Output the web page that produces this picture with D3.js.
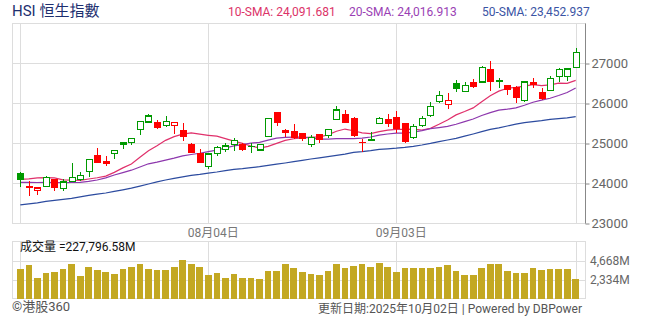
<!DOCTYPE html>
<html>
<head>
<meta charset="utf-8">
<script src="https://cdn.jsdelivr.net/npm/d3@7"></script>
<style>
  body { margin: 0; background: #fff; }
  svg { display: block; font-family: Roboto, "Noto Sans CJK TC", sans-serif; }
</style>
</head>
<body>
<svg id="chart" width="654" height="325"></svg>
<script>
"use strict";
// daily OHLC
const open  = [24250,23925,23817,23908,24092,23867,24033,24083,24283,24700,24550,24742,24983,25017,25333,25525,25517,25433,25442,25325,24983,24750,24408,24742,24842,24967,24975,24933,24825,25158,25767,25317,25292,25242,24967,25217,25192,25592,25725,25625,25033,25092,25492,25600,25650,25500,25133,25433,25683,26033,25967,26508,26283,26517,26525,26850,26575,26442,26408,26058,26525,26267,26317,26667,26667,26892];
const high  = [24275,24050,23908,24175,24108,24100,24508,24275,24600,24883,24675,24825,25033,25117,25550,25725,25567,25675,25517,25500,25000,24842,24725,24925,24992,25117,25008,24992,24967,25617,25767,25342,25475,25242,25192,25217,25342,25925,25825,25650,25092,25267,25650,25725,25800,25500,25475,25667,26017,26300,26242,26567,26525,26592,26925,27050,26633,26458,26425,26542,26625,26383,26675,26875,26867,27375];
const low   = [23908,23683,23700,23892,23808,23808,24017,24058,24142,24500,24433,24608,24842,24942,25208,25492,25342,25392,25225,25050,24742,24492,24350,24683,24783,24808,24808,24758,24800,25158,25433,25158,25092,25058,24892,24992,25133,25592,25508,25158,24783,25058,25475,25408,25258,25008,25092,25392,25658,26008,25858,26283,26283,26367,26508,26308,26383,26192,25992,26025,26375,26075,26317,26533,26542,26892];
const close = [24067,23890,23875,24142,23883,24025,24142,24192,24592,24508,24483,24817,25000,25117,25542,25675,25383,25542,25517,25158,24758,24508,24725,24892,24925,25058,24825,24892,24967,25617,25508,25258,25117,25100,25142,25075,25342,25825,25508,25183,24992,25058,25617,25483,25350,25033,25408,25617,25917,26192,26067,26350,26442,26408,26892,26533,26542,26333,26133,26525,26450,26100,26608,26842,26850,27267];
const prevClose0 = 24000; // close of the day before the first candle

// moving averages
const sma10 = [24092,24105,24130,24135,24130,24080,24070,24065,24100,24132,24173,24266,24378,24476,24642,24807,24931,25066,25158,25223,25251,25220,25193,25170,25108,25047,24991,24926,24871,24917,24992,25067,25106,25127,25148,25150,25202,25295,25349,25306,25254,25234,25284,25323,25343,25339,25346,25325,25366,25467,25574,25703,25786,25878,26033,26183,26296,26368,26389,26423,26461,26436,26452,26496,26492,26565];
const sma20 = [24017,24015,24012,24015,24012,24010,24012,24015,24040,24075,24130,24200,24260,24320,24400,24480,24520,24570,24620,24678,24712,24743,24785,24823,24875,24927,24961,24996,25015,25070,25121,25143,25149,25148,25128,25098,25096,25110,25110,25111,25123,25150,25195,25225,25246,25245,25274,25310,25358,25386,25414,25469,25535,25600,25688,25761,25821,25846,25878,25945,26018,26070,26119,26187,26262,26374];
const sma50 = [23453,23480,23505,23540,23565,23590,23615,23655,23690,23720,23750,23790,23830,23870,23920,23975,24030,24075,24115,24155,24190,24215,24245,24275,24310,24340,24360,24385,24408,24440,24470,24500,24533,24565,24600,24630,24658,24690,24720,24767,24785,24810,24842,24855,24870,24890,24915,24950,24990,25035,25075,25117,25170,25225,25285,25342,25380,25425,25470,25508,25535,25560,25590,25610,25630,25658];

// volume in millions
const volume = [3613,4100,2517,3125,3247,3613,4221,2760,3856,3491,3247,3004,3613,3856,4221,3613,3491,3491,3856,4708,4221,3856,2882,3125,2517,3004,2517,2517,2395,3369,3369,4221,3734,3247,3004,2882,3369,4221,3734,3978,4221,3856,4343,3856,3247,3734,3734,3734,3734,3856,4100,3369,2882,2882,3734,4221,4221,3369,3125,3125,3734,3491,3613,3613,3613,2395];

const priceTicks = [23000, 24000, 25000, 26000, 27000];
const volTicks = [2334, 4668];
const gridDays = [0, 22, 44, 65];
const dateTickDays = [22, 44];
const dateTickLabels = ['08月04日', '09月03日'];
const smaLabels = ['10-SMA: 24,091.681', '20-SMA: 24,016.913', '50-SMA: 23,452.937'];

const green = '#009900', red = '#ff0000';
const smaColors = ['#e0306b', '#8d37ad', '#2c4b9f'];
const smaTextColors = ['#dc3368', '#9a3fb4', '#3a54a4'];
const gridColor = '#dddddd';

const svg = d3.select('#chart');
const left = 12, right = 585;

const x = d3.scaleLinear().domain([0, close.length - 1]).range([20.3, 575.7]);
const y = d3.scaleLinear().domain([23000, 28000]).range([223, 23]);
const yv = d3.scaleLinear().domain([0, 7002]).range([298.5, 241.5]);
const px = i => Math.round(x(i)) + 0.5;

// title + sma legend
svg.append('text').attr('x', 12).attr('y', 16)
  .attr('font-size', 15).attr('fill', '#1d2f6f').text('HSI 恒生指數');
const legendX = [228, 349, 482];
smaLabels.forEach((t, k) => {
  svg.append('text').attr('x', legendX[k]).attr('y', 16)
    .attr('font-size', 12).attr('fill', smaTextColors[k]).text(t);
});

// price panel grid
const grid = svg.append('g').attr('shape-rendering', 'crispEdges');
grid.append('rect').attr('x', left + 0.5).attr('y', 23.5)
  .attr('width', right - left).attr('height', 200)
  .attr('fill', 'none').attr('stroke', gridColor);
grid.selectAll('.hg').data(priceTicks.slice(1)).enter().append('line')
  .attr('x1', left).attr('x2', right)
  .attr('y1', d => Math.round(y(d)) + 0.5).attr('y2', d => Math.round(y(d)) + 0.5)
  .attr('stroke', gridColor);
grid.selectAll('.vg').data(gridDays).enter().append('line')
  .attr('x1', d => px(d)).attr('x2', d => px(d))
  .attr('y1', 23).attr('y2', 224)
  .attr('stroke', gridColor);

// right price axis
const axis = svg.append('g').attr('transform', `translate(${right + 0.5},0.5)`)
  .call(d3.axisRight(y).tickValues(priceTicks).tickSize(4).tickPadding(2).tickFormat(d3.format('d')));
axis.select('.domain').attr('stroke', '#888').attr('d', 'M0,23V223');
axis.selectAll('.tick line').attr('stroke', '#888');
axis.selectAll('.tick text').attr('fill', '#666').attr('font-size', 13)
  .attr('font-family', 'Roboto, sans-serif');

// date labels
svg.selectAll('.dl').data(dateTickDays).enter().append('text')
  .attr('x', d => x(d) + 5).attr('y', 237)
  .attr('text-anchor', 'middle').attr('font-size', 12).attr('fill', '#777')
  .text((d, k) => dateTickLabels[k]);

// moving average lines
[sma10, sma20, sma50].forEach((s, k) => {
  svg.append('path').datum(s)
    .attr('fill', 'none').attr('stroke', smaColors[k]).attr('stroke-width', 1.2)
    .attr('d', d3.line().x((d, i) => x(i)).y(d => y(d)));
});

// candles
const candles = svg.append('g').attr('shape-rendering', 'crispEdges');
close.forEach((c, i) => {
  const o = open[i];
  const prev = i === 0 ? prevClose0 : close[i - 1];
  const col = c >= prev ? green : red;
  const cx = px(i);
  candles.append('line').attr('x1', cx).attr('x2', cx)
    .attr('y1', y(high[i])).attr('y2', y(low[i])).attr('stroke', col);
  const top = y(Math.max(o, c)), bot = y(Math.min(o, c));
  if (c > o) {
    candles.append('rect').attr('x', cx - 3).attr('y', top)
      .attr('width', 6).attr('height', Math.max(1, bot - top))
      .attr('fill', '#fff').attr('stroke', col).attr('stroke-width', 1.4);
  } else {
    candles.append('rect').attr('x', cx - 3.5).attr('y', top)
      .attr('width', 7).attr('height', Math.max(1.5, bot - top))
      .attr('fill', col);
  }
});

// volume panel
const vg = svg.append('g').attr('shape-rendering', 'crispEdges');
vg.append('rect').attr('x', left + 0.5).attr('y', 241.5)
  .attr('width', right - left).attr('height', 57)
  .attr('fill', 'none').attr('stroke', gridColor);
vg.selectAll('.vh').data(volTicks).enter().append('line')
  .attr('x1', left).attr('x2', right)
  .attr('y1', d => Math.round(yv(d)) + 0.5).attr('y2', d => Math.round(yv(d)) + 0.5)
  .attr('stroke', gridColor);
vg.selectAll('.vv').data(gridDays).enter().append('line')
  .attr('x1', d => px(d)).attr('x2', d => px(d))
  .attr('y1', 241).attr('y2', 299)
  .attr('stroke', gridColor);
vg.selectAll('.bar').data(volume).enter().append('rect')
  .attr('x', (d, i) => x(i) - 3.3).attr('width', 6.7)
  .attr('y', d => yv(d)).attr('height', d => yv(0) - yv(d))
  .attr('fill', '#c3a822');
svg.selectAll('.vl').data(volTicks).enter().append('text')
  .attr('x', 590).attr('y', d => yv(d) + 4)
  .attr('font-size', 12).attr('fill', '#666')
  .text(d => d3.format(',')(d) + 'M');
svg.append('text').attr('x', 20).attr('y', 251)
  .attr('font-size', 12).attr('fill', '#111').text('成交量 =227,796.58M');

// footer
svg.append('text').attr('x', 12).attr('y', 311)
  .attr('font-size', 13).attr('fill', '#555').text('©港股360');
svg.append('text').attr('x', 582).attr('y', 313).attr('text-anchor', 'end')
  .attr('font-size', 12).attr('fill', '#555')
  .text('更新日期:2025年10月02日  |  Powered by DBPower');
</script>
</body>
</html>
